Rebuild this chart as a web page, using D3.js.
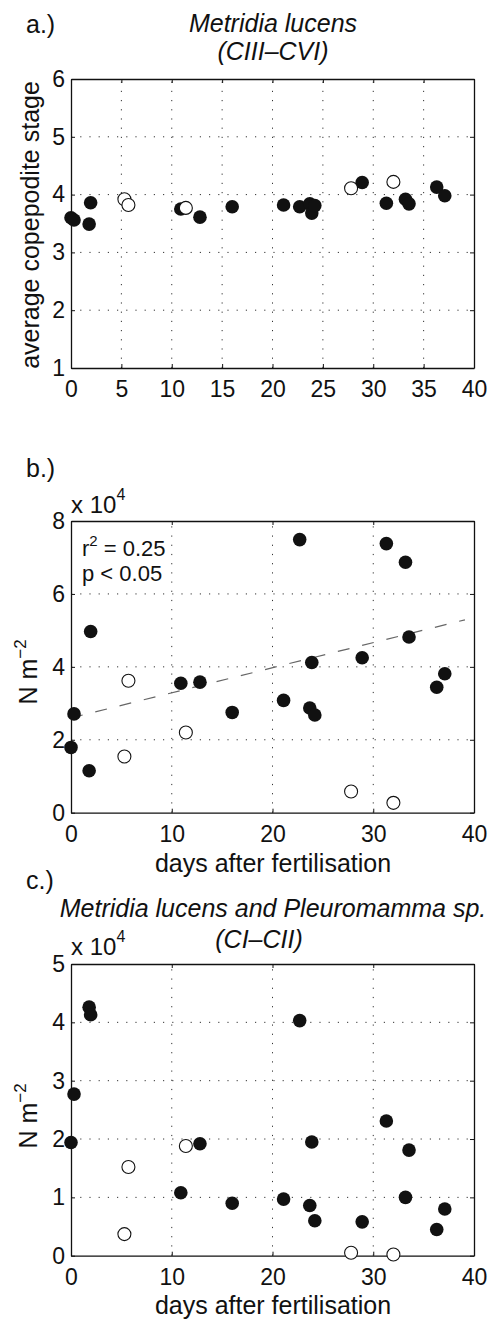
<!DOCTYPE html>
<html>
<head>
<meta charset="utf-8">
<script src="https://cdn.jsdelivr.net/npm/d3@7"></script>
<style>
  body { margin: 0; background: #fff; }
  text { font-family: "Liberation Sans", Arial, sans-serif; fill: #111; }
</style>
</head>
<body>
<svg id="chart" width="491" height="1322"></svg>
<script>
// days after fertilisation, filled (black) and open samples
const filledDays = [0.0, 0.3, 1.8, 1.95, 10.9, 12.8, 16.0, 21.1, 22.7, 23.7, 23.9, 24.2, 28.9, 31.3, 33.2, 33.55, 36.3, 37.1]
const openDays = [5.3, 5.7, 11.4, 27.8, 32.0]

// a.) average copepodite stage, Metridia lucens CIII-CVI
const stageFilled = [3.60, 3.56, 3.49, 3.86, 3.75, 3.61, 3.79, 3.82, 3.79, 3.84, 3.68, 3.81, 4.21, 3.85, 3.92, 3.84, 4.13, 3.98]
const stageOpen = [3.92, 3.82, 3.77, 4.11, 4.22]

// b.) abundance N m^-2, Metridia lucens CIII-CVI
const abundFilled = [17900, 27100, 11500, 49700, 35500, 35800, 27500, 30800, 74900, 28700, 41200, 26800, 42500, 73800, 68700, 48200, 34400, 38100]
const abundOpen = [15400, 36200, 22000, 5800, 2700]

// c.) abundance N m^-2, Metridia lucens and Pleuromamma sp. CI-CII
const youngFilled = [19400, 27700, 42600, 41300, 10800, 19200, 9000, 9700, 40300, 8600, 19500, 6000, 5800, 23100, 10000, 18100, 4500, 8000]
const youngOpen = [3700, 15200, 18800, 500, 200]

// regression line in b.)
const fitDays = [0, 39.1]
const fitValues = [26000, 52900]

const xTicksA = [0, 5, 10, 15, 20, 25, 30, 35, 40]
const xTicksBC = [0, 10, 20, 30, 40]
const stageTicks = [1, 2, 3, 4, 5, 6]
const abundTicks = [0, 20000, 40000, 60000, 80000]
const youngTicks = [0, 10000, 20000, 30000, 40000, 50000]

var svg = d3.select("#chart")
svg.append("rect").attr("width", 491).attr("height", 1322).attr("fill", "#fff")

var left = 71, right = 474
var fs = 25      // titles and axis labels
var tickFs = 23  // tick labels

function panel(opts) {
  var g = svg.append("g")
  var x = d3.scaleLinear().domain([0, 40]).range([left, right])
  var y = d3.scaleLinear().domain(opts.yDomain).range([opts.bottom, opts.top])

  // dotted grid
  var grid = g.append("g").attr("stroke", "#333").attr("stroke-width", 1).attr("stroke-dasharray", "1.2,8")
  grid.selectAll(".gx").data(opts.xTicks.slice(1, -1)).enter().append("line")
    .attr("x1", d => x(d)).attr("x2", d => x(d))
    .attr("y1", opts.bottom).attr("y2", opts.top)
  grid.selectAll(".gy").data(opts.yTicks.slice(1, -1)).enter().append("line")
    .attr("x1", left).attr("x2", right)
    .attr("y1", d => y(d)).attr("y2", d => y(d))

  g.append("g").attr("transform", "translate(0," + opts.bottom + ")")
    .call(d3.axisBottom(x).tickValues(opts.xTicks).tickSizeInner(-4).tickSizeOuter(0).tickPadding(13))
  g.append("g").attr("transform", "translate(0," + opts.top + ")")
    .call(d3.axisTop(x).tickValues(opts.xTicks).tickSizeInner(-4).tickSizeOuter(0).tickFormat(""))
  g.append("g").attr("transform", "translate(" + left + ",0)")
    .call(d3.axisLeft(y).tickValues(opts.yTicks).tickSizeInner(-4).tickSizeOuter(0).tickPadding(6)
      .tickFormat(opts.yFormat || (d => d)))
  g.append("g").attr("transform", "translate(" + right + ",0)")
    .call(d3.axisRight(y).tickValues(opts.yTicks).tickSizeInner(-4).tickSizeOuter(0).tickFormat(""))

  g.selectAll(".domain").attr("stroke", "#111").attr("stroke-width", 1.3)
  g.selectAll(".tick line").attr("stroke", "#111")
  g.selectAll(".tick text").attr("font-size", tickFs).attr("font-family", "Liberation Sans, Arial, sans-serif").attr("fill", "#111")

  if (opts.fit) {
    g.append("line")
      .attr("x1", x(opts.fit[0][0])).attr("y1", y(opts.fit[1][0]))
      .attr("x2", x(opts.fit[0][1])).attr("y2", y(opts.fit[1][1]))
      .attr("stroke", "#666").attr("stroke-width", 1.2).attr("stroke-dasharray", "12,13")
  }

  g.selectAll(".filled").data(filledDays).enter().append("circle")
    .attr("cx", d => x(d)).attr("cy", (d, i) => y(opts.filled[i]))
    .attr("r", 6.8).attr("fill", "#111")
  g.selectAll(".open").data(openDays).enter().append("circle")
    .attr("cx", d => x(d)).attr("cy", (d, i) => y(opts.open[i]))
    .attr("r", 6.5).attr("fill", "#fff").attr("stroke", "#111").attr("stroke-width", 1.1)

  return { x: x, y: y }
}

function label(txt, x, y, size, anchor, italic) {
  return svg.append("text").attr("x", x).attr("y", y).attr("font-size", size)
    .attr("text-anchor", anchor || "start")
    .attr("font-style", italic ? "italic" : "normal")
    .text(txt)
}

function exponentLabel(y) {
  var t = svg.append("text").attr("x", 71).attr("y", y).attr("font-size", 24)
  t.append("tspan").text("x 10")
  t.append("tspan").attr("dy", -13).attr("font-size", 16).text("4")
}

function nm2(cx, cy) {
  var t = svg.append("text").attr("transform", "translate(" + cx + "," + cy + ") rotate(-90)")
    .attr("text-anchor", "middle").attr("font-size", fs)
  t.append("tspan").text("N m")
  t.append("tspan").attr("dy", -11).attr("font-size", 17).text("\u22122")
}

// ---- a.)
panel({ top: 79, bottom: 368, yDomain: [1, 6], xTicks: xTicksA, yTicks: stageTicks,
  filled: stageFilled, open: stageOpen })
label("a.)", 26, 33, 25)
label("Metridia lucens", 273, 32, fs, "middle", true)
label("(CIII\u2013CVI)", 273, 60, fs, "middle", true)
svg.append("text").attr("transform", "translate(39,225) rotate(-90)")
  .attr("text-anchor", "middle").attr("font-size", fs).text("average copepodite stage")

// ---- b.)
panel({ top: 521, bottom: 812.7, yDomain: [0, 80000], xTicks: xTicksBC, yTicks: abundTicks,
  filled: abundFilled, open: abundOpen, yFormat: d => d / 10000, fit: [fitDays, fitValues] })
label("b.)", 26, 477, 25)
exponentLabel(513)
var r2 = svg.append("text").attr("x", 82).attr("y", 556).attr("font-size", 22)
r2.append("tspan").text("r")
r2.append("tspan").attr("dy", -10).attr("font-size", 15).text("2")
r2.append("tspan").attr("dy", 10).text(" = 0.25")
label("p < 0.05", 82, 581, 22)
nm2(37, 672)
label("days after fertilisation", 273, 872, fs, "middle")

// ---- c.)
panel({ top: 964, bottom: 1255.7, yDomain: [0, 50000], xTicks: xTicksBC, yTicks: youngTicks,
  filled: youngFilled, open: youngOpen, yFormat: d => d / 10000 })
label("c.)", 26, 889, 25)
label("Metridia lucens and Pleuromamma sp.", 273, 917, fs, "middle", true)
label("(CI\u2013CII)", 259, 948, fs, "middle", true)
exponentLabel(955)
nm2(37, 1116)
label("days after fertilisation", 273, 1314, fs, "middle")
</script>
</body>
</html>
